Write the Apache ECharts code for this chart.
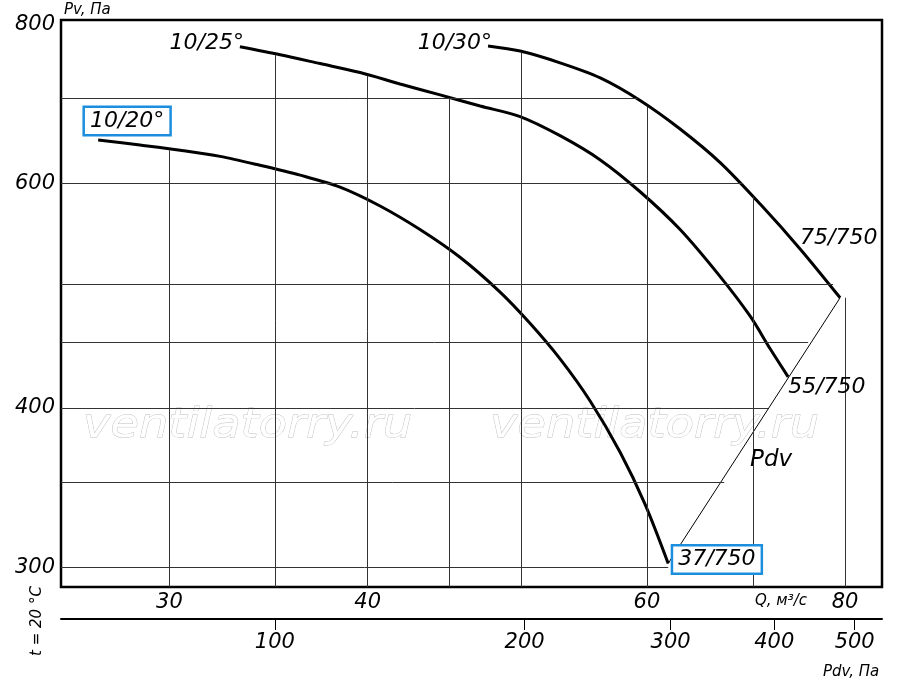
<!DOCTYPE html>
<html>
<head>
<meta charset="utf-8">
<script src="https://cdn.jsdelivr.net/npm/echarts@6/dist/echarts.min.js"></script>
</head>
<body style="margin:0;background:#fff">
<div id="main" style="width:900px;height:691px;"></div>
<script type="text/javascript">
// curves: Q, м³/с  ->  Pv, Па
var q20 = [27.05, 28.74, 30.47, 32.29, 34.21, 36.27, 38.43, 40.73, 43.16, 45.74, 48.48, 50.63, 52.89, 55.25, 57.72, 59.84, 61.88];
var p20 = [649, 643, 637, 630, 620, 609, 596, 576, 552, 525, 493, 466, 437, 405, 369, 336, 302];
var q25 = [33.23, 35.23, 37.33, 39.57, 41.93, 44.44, 47.10, 49.91, 52.89, 56.07, 59.41, 62.96, 66.73, 69.70, 71.75, 73.65];
var p25 = [768, 757, 745, 733, 718, 704, 690, 677, 654, 626, 591, 552, 507, 472, 445, 423];
var q30 = [47.64, 49.91, 52.89, 56.07, 59.41, 62.96, 66.73, 70.72, 74.94, 79.42];
var p30 = [769, 762, 746, 726, 697, 662, 623, 578, 533, 488];

// Pdv line through the curve ends
var qPdv = [61.88, 79.42];
var pPdv = [302, 488];

// grid lines (they stop at the outer curves)
var gridQ = [30, 35, 40, 45, 50, 60, 70, 80];
var gridQTop = [637, 757, 729, 699, 760, 689, 586, 488];
var gridP = [700, 600, 500, 450, 400, 350, 300];
var gridPEnd = [59.16, 68.99, 78.62, 75.82, 71.53, 67.12, 61.88];

// tick labels
var qTicks = [30, 40, 60, 80];
var pTicks = [300, 400, 600, 800];
var pdvTicks = [100, 200, 300, 400, 500];

var qMin = 25.63, qMax = 84.4;
var pMin = 289.4, pMax = 806;
var pdvMin = 55.23, pdvMax = 539.4;

var FONT = 'DejaVu Sans';
var BLUE = '#1b8ede';

function pts(q, p) {
	return q.map(function (v, i) { return [v, p[i]]; });
}

var gridLines = [];
gridQ.forEach(function (q, i) {
	gridLines.push([{ coord: [q, pMin] }, { coord: [q, gridQTop[i]] }]);
});
gridP.forEach(function (p, i) {
	gridLines.push([{ coord: [qMin, p] }, { coord: [gridPEnd[i], p] }]);
});

function lbl(name, coord, label) {
	label.show = true;
	label.formatter = '{b}';
	label.color = '#000';
	label.fontFamily = FONT;
	label.fontStyle = 'italic';
	label.fontSize = label.fontSize || 22;
	return { name: name, coord: coord, label: label };
}

function curve(name, q, p, marks) {
	return {
		name: name,
		type: 'line',
		z: 3,
		data: pts(q, p),
		smooth: 0.3,
		showSymbol: false,
		lineStyle: { color: '#000', width: 3 },
		markPoint: {
			symbol: 'circle',
			symbolSize: 0,
			itemStyle: { color: 'transparent' },
			data: marks
		}
	};
}

var boxed = { borderColor: BLUE, borderWidth: 2.5, padding: [3, 5, 1, 5], backgroundColor: '#fff' };
var watermark = { text: 'ventilatorry.ru', font: 'italic 41px "DejaVu Sans"', fill: '#fff', stroke: '#bdbdbd', lineWidth: 0.8, align: 'left', verticalAlign: 'middle' };

var myChart = echarts.init(document.getElementById('main'));

var option = {
	animation: false,
	backgroundColor: '#fff',
	textStyle: { fontFamily: FONT },
	grid: [
		{ left: 61, top: 20, right: 18, bottom: 104, show: true, borderColor: '#000', borderWidth: 2.5, backgroundColor: 'transparent' },
		{ left: 61, right: 18, top: 618, height: 1 }
	],
	xAxis: [
		{
			type: 'log', gridIndex: 0, min: qMin, max: qMax,
			axisLine: { show: false }, axisTick: { show: false }, splitLine: { show: false },
			axisLabel: { customValues: qTicks, margin: 5, fontSize: 21, fontStyle: 'italic', color: '#000' }
		},
		{
			type: 'log', gridIndex: 1, min: pdvMin, max: pdvMax, position: 'bottom',
			axisLine: { show: true, lineStyle: { color: '#000', width: 2 } },
			axisTick: { show: true, customValues: pdvTicks, length: 11, lineStyle: { color: '#000', width: 1 } },
			splitLine: { show: false },
			axisLabel: { customValues: pdvTicks, margin: 13, fontSize: 21, fontStyle: 'italic', color: '#000' }
		}
	],
	yAxis: [
		{
			type: 'log', gridIndex: 0, min: pMin, max: pMax,
			axisLine: { show: false }, axisTick: { show: false }, splitLine: { show: false },
			axisLabel: { customValues: pTicks, margin: 6, fontSize: 21, fontStyle: 'italic', color: '#000' }
		},
		{ type: 'value', gridIndex: 1, min: 0, max: 1, show: false }
	],
	graphic: [
		{ type: 'text', x: 83, y: 426, scaleX: 1.13, z: -10, style: watermark },
		{ type: 'text', x: 490, y: 426, scaleX: 1.13, z: -10, style: watermark },
		{ type: 'text', x: 64, y: 10, style: { text: 'Pv, Па', font: 'italic 15px "DejaVu Sans"', fill: '#000', align: 'left', verticalAlign: 'middle' } },
		{ type: 'text', x: 755, y: 601, style: { text: 'Q, м³/с', font: 'italic 15px "DejaVu Sans"', fill: '#000', align: 'left', verticalAlign: 'middle' } },
		{ type: 'text', x: 823, y: 672, style: { text: 'Pdv, Па', font: 'italic 15px "DejaVu Sans"', fill: '#000', align: 'left', verticalAlign: 'middle' } },
		{ type: 'text', x: 37, y: 621, rotation: Math.PI / 2, style: { text: 't = 20 °C', font: 'italic 15px "DejaVu Sans"', fill: '#000', align: 'center', verticalAlign: 'middle' } }
	],
	series: [
		{
			name: 'Pdv',
			type: 'line',
			z: 2,
			data: pts(qPdv, pPdv),
			showSymbol: false,
			lineStyle: { color: '#000', width: 1 },
			markLine: {
				silent: true,
				symbol: ['none', 'none'],
				label: { show: false },
				lineStyle: { type: 'solid', color: '#333', width: 1 },
				data: gridLines
			},
			markPoint: {
				symbol: 'circle',
				symbolSize: 0,
				itemStyle: { color: 'transparent' },
				data: [lbl('Pdv', [71.85, 364], { position: 'inside', fontSize: 23 })]
			}
		},
		curve('10/20°', q20, p20, [
			lbl('10/20°', [q20[0], p20[0]], Object.assign({ position: 'inside', offset: [29, -19] }, boxed)),
			lbl('37/750', [q20[q20.length - 1], p20[p20.length - 1]], Object.assign({ position: 'right', distance: 0, offset: [5, -4] }, boxed))
		]),
		curve('10/25°', q25, p25, [
			lbl('10/25°', [q25[0], p25[0]], { position: 'left', distance: 0, offset: [4, -3] }),
			lbl('55/750', [q25[q25.length - 1], p25[p25.length - 1]], { position: 'right', distance: 0, offset: [0, 10] })
		]),
		curve('10/30°', q30, p30, [
			lbl('10/30°', [q30[0], p30[0]], { position: 'left', distance: 0, offset: [4, -3] }),
			lbl('75/750', [q30[8], p30[8]], { position: 'right', distance: 0, offset: [0, -11] })
		])
	]
};

myChart.setOption(option);
</script>
</body>
</html>
